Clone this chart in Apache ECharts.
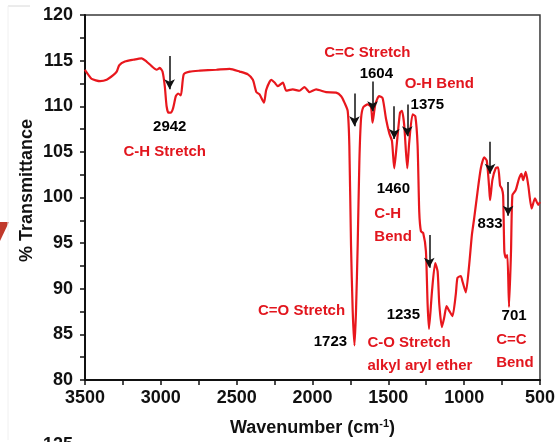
<!DOCTYPE html>
<html>
<head>
<meta charset="utf-8">
<script src="https://cdn.jsdelivr.net/npm/echarts@6/dist/echarts.min.js"></script>
<style>
html,body{margin:0;padding:0;background:#fff;}
#chart{width:558px;height:442px;}
</style>
</head>
<body>
<div id="chart"></div>
<script>
// Spectrum: wavenumber (cm-1) and % transmittance
var wavenumbers = [3500, 3493, 3480, 3456, 3401, 3357, 3314, 3291, 3274, 3237, 3182, 3127, 3094, 3061, 3028, 3007, 2989, 2974, 2962, 2950, 2935, 2919, 2901, 2886, 2868, 2849, 2809, 2743, 2634, 2546, 2480, 2426, 2393, 2370, 2349, 2320, 2305, 2272, 2250, 2228, 2195, 2173, 2130, 2086, 2053, 2020, 1976, 1910, 1844, 1811, 1789, 1768, 1757, 1746, 1735, 1723, 1713, 1702, 1691, 1680, 1665, 1636, 1614, 1604, 1586, 1561, 1538, 1515, 1493, 1476, 1461, 1445, 1423, 1410, 1395, 1375, 1362, 1340, 1322, 1307, 1296, 1285, 1270, 1252, 1241, 1232, 1212, 1191, 1175, 1164, 1147, 1132, 1116, 1099, 1077, 1055, 1044, 1022, 1011, 989, 967, 949, 934, 912, 890, 868, 851, 836, 829, 814, 792, 776, 763, 752, 743, 735, 726, 715, 704, 691, 682, 660, 638, 622, 611, 594, 577, 555, 533, 511, 500];
var transmittance = [114.0, 113.8, 113.5, 113.0, 112.75, 112.9, 113.4, 113.8, 114.5, 114.9, 115.1, 115.25, 114.9, 114.4, 114.0, 114.2, 113.8, 112.2, 110.0, 109.3, 109.3, 109.8, 111.1, 111.4, 111.2, 113.5, 113.8, 113.9, 114.0, 114.1, 113.8, 113.5, 112.9, 111.55, 111.3, 110.4, 111.8, 112.9, 112.6, 112.2, 112.6, 111.7, 111.85, 111.7, 112.1, 111.55, 111.85, 111.55, 111.5, 111.1, 110.4, 109.5, 105.7, 94.8, 87.6, 83.8, 87.6, 94.8, 103.9, 108.6, 109.9, 110.2, 109.9, 108.2, 110.2, 111.1, 110.9, 108.6, 107.0, 106.2, 103.2, 105.7, 109.3, 109.5, 107.9, 103.2, 106.1, 109.1, 108.9, 105.7, 98.4, 96.3, 96.1, 94.1, 88.3, 85.6, 89.75, 92.8, 91.9, 88.3, 85.8, 86.8, 88.1, 87.6, 87.0, 89.4, 91.2, 91.4, 90.8, 89.6, 92.6, 95.9, 97.7, 100.6, 103.2, 104.4, 104.05, 101.3, 99.7, 101.9, 103.2, 103.3, 101.3, 101.0, 100.25, 94.1, 93.4, 93.7, 88.0, 94.1, 100.25, 100.8, 102.1, 102.6, 101.9, 102.8, 101.3, 98.8, 99.9, 99.2, 99.5];

// Axis ticks
var xTicks = [3500, 3000, 2500, 2000, 1500, 1000, 500];
var yTicks = [80, 85, 90, 95, 100, 105, 110, 115, 120];

// Arrows: x position, top value, bottom (tip) value
var arrowX = [2942, 1723, 1604, 1461, 1375, 1230, 829, 710];
var arrowTop = [115.5, 111.4, 112.7, 110.0, 110.2, 95.9, 106.1, 101.7];
var arrowTip = [111.85, 107.8, 109.45, 106.4, 106.7, 92.3, 102.6, 98.0];

// Annotation texts
var labelText = ['2942', 'C-H Stretch', '1723', 'C=O Stretch', '1604', 'C=C Stretch', '1460', 'C-H\nBend', '1375', 'O-H Bend', '1235', 'C-O Stretch\nalkyl aryl ether', '833', '701', 'C=C\nBend'];
var labelX = [2941, 2974, 1882, 2072, 1579, 1638, 1467, 1592, 1243, 1164, 1401, 1638, 829, 671, 789];
var labelY = [107.7, 105.0, 84.2, 87.6, 113.5, 115.9, 100.9, 97.0, 110.1, 112.5, 87.1, 82.8, 97.1, 87.0, 83.15];
var labelRed = [false, true, false, true, false, true, false, true, false, true, false, true, false, false, true];
var labelLeft = [false, false, false, false, false, false, false, true, false, false, false, true, false, false, true];

var FONT = 'Arial, "Liberation Sans", sans-serif';
var RED = '#e8171d';
var TEXTRED = '#e2161e';

var lineData = wavenumbers.map(function (w, i) { return [w, transmittance[i]]; });
var arrowData = arrowX.map(function (x, i) {
  return [{ coord: [x, arrowTop[i]] }, { coord: [x, arrowTip[i]] }];
});
var labelData = labelText.map(function (t, i) {
  return {
    value: [labelX[i], labelY[i]],
    name: t,
    label: {
      color: labelRed[i] ? TEXTRED : '#000',
      align: labelLeft[i] ? 'left' : 'center'
    }
  };
});

var chart = echarts.init(document.getElementById('chart'), null, { renderer: 'canvas' });
chart.setOption({
  animation: false,
  backgroundColor: '#fff',
  grid: { left: 85, right: 17, top: 15, bottom: 59, show: true, borderColor: '#3a3a3a', borderWidth: 1.5, backgroundColor: 'transparent' },
  xAxis: {
    type: 'value', inverse: true, min: 500, max: 3500, interval: 500,
    name: 'Wavenumber (cm{sup|-1})', nameLocation: 'middle', nameGap: 38, nameMoveOverlap: false,
    nameTextStyle: {
      fontFamily: FONT, fontWeight: 'bold', fontSize: 18, color: '#111',
      rich: { sup: { fontFamily: FONT, fontWeight: 'bold', fontSize: 11, verticalAlign: 'top', padding: [0, 0, 9, 0], color: '#111' } }
    },
    axisLine: { lineStyle: { color: '#111', width: 2 } },
    axisTick: { inside: false, length: 5, lineStyle: { color: '#111', width: 1.5 } },
    minorTick: { show: true, splitNumber: 2, length: 5, lineStyle: { color: '#111', width: 1.5 } },
    axisLabel: { fontFamily: FONT, fontWeight: 'bold', fontSize: 18, color: '#111', margin: 9,
      formatter: function (v) { return xTicks.indexOf(v) >= 0 ? String(v) : ''; } },
    splitLine: { show: false }
  },
  yAxis: {
    type: 'value', min: 80, max: 120, interval: 5,
    name: '% Transmittance', nameLocation: 'middle', nameGap: 49, nameRotate: 90, nameMoveOverlap: false,
    nameTextStyle: { fontFamily: FONT, fontWeight: 'bold', fontSize: 18, color: '#111', padding: [0, 0, 0, 14] },
    axisLine: { lineStyle: { color: '#111', width: 2 } },
    axisTick: { inside: false, length: 5, lineStyle: { color: '#111', width: 1.5 } },
    minorTick: { show: true, splitNumber: 2, length: 5, lineStyle: { color: '#111', width: 1.5 } },
    axisLabel: { fontFamily: FONT, fontWeight: 'bold', fontSize: 18, color: '#111', margin: 12,
      formatter: function (v) { return yTicks.indexOf(v) >= 0 ? String(v) : ''; } },
    splitLine: { show: false }
  },
  series: [
    {
      type: 'line', data: lineData, showSymbol: false, smooth: 0.2,
      lineStyle: { color: RED, width: 2.2 }, itemStyle: { color: RED },
      markLine: {
        silent: true, symbol: ['none', 'arrow'], symbolSize: [8, 10], precision: 2,
        label: { show: false },
        lineStyle: { color: '#111', width: 1.5, type: 'solid' },
        data: arrowData
      },
      z: 3
    },
    {
      type: 'scatter', data: labelData, symbolSize: 0, silent: true,
      itemStyle: { opacity: 1 },
      label: {
        show: true, position: 'inside', formatter: '{b}',
        fontFamily: FONT, fontWeight: 'bold', fontSize: 15, lineHeight: 23,
        textBorderWidth: 0, textShadowBlur: 0
      },
      z: 5
    }
  ],
  graphic: [
    { type: 'polygon', shape: { points: [[0, 222], [9, 222], [0, 241]] }, style: { fill: '#c0392b' } },
    { type: 'line', shape: { x1: 8, y1: 6, x2: 30, y2: 6 }, style: { stroke: '#d8d8d8', lineWidth: 1 } },
    { type: 'line', shape: { x1: 8, y1: 6, x2: 8, y2: 440 }, style: { stroke: '#f0f0f0', lineWidth: 1 } },
    { type: 'text', left: 43, top: 436, style: { text: '125', fontFamily: FONT, fontWeight: 'bold', fontSize: 18, fill: '#111' } }
  ]
});
</script>
</body>
</html>
